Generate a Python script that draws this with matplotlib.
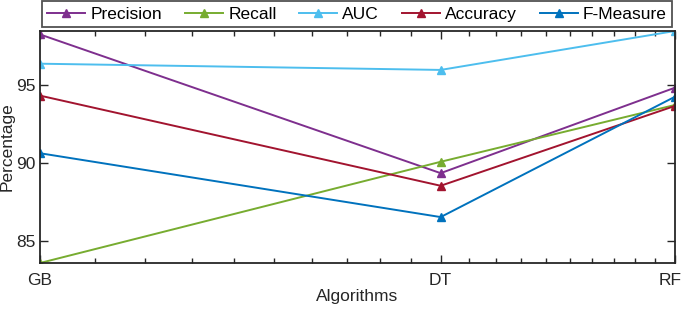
import matplotlib.pyplot as plt
import matplotlib.transforms as mtransforms
import numpy as np
from matplotlib.ticker import FixedLocator, NullFormatter

plt.rcParams['font.family'] = ['Liberation Sans', 'DejaVu Sans']

# Data
algorithms = ["GB", "DT", "RF"]
x_pos = [1, 2, 3]
precision = [98.28, 89.37, 94.86]
recall = [83.6, 90.1, 93.75]
auc = [96.4, 96.0, 98.5]
accuracy = [94.35, 88.56, 93.69]
f_measure = [90.65, 86.55, 94.28]

series = [
    ("Precision", precision, "#7E2F8E"),
    ("Recall", recall, "#77AC30"),
    ("AUC", auc, "#4DBEEE"),
    ("Accuracy", accuracy, "#A2142F"),
    ("F-Measure", f_measure, "#0072BD"),
]

fig = plt.figure(figsize=(6.85, 3.11), dpi=100)
ax = fig.add_axes([40 / 685, 1 - 263 / 311, 635 / 685, 232 / 311])

for name, vals, col in series:
    ax.plot(x_pos, vals, color=col, linewidth=1.4, marker="^", markersize=5.5,
            label=name)

ax.set_xscale("log")
ax.set_xlim(1, 3)
all_vals = np.concatenate([s[1] for s in series])
ax.set_ylim(all_vals.min(), all_vals.max())

ax.xaxis.set_major_locator(FixedLocator(x_pos))
ax.set_xticklabels(algorithms)
minor = [1 + 0.1 * i for i in range(1, 10)] + [2 + 0.1 * i for i in range(1, 10)]
ax.xaxis.set_minor_locator(FixedLocator(minor))
ax.xaxis.set_minor_formatter(NullFormatter())
ax.set_yticks([85, 90, 95])

ax.tick_params(which="both", direction="in", top=True, right=True,
               colors="#262626", labelsize=12.5, width=1.0)
ax.tick_params(which="major", length=6)
ax.tick_params(which="minor", length=3.5)
ax.tick_params(axis="x", which="major", pad=7)
ax.tick_params(axis="y", which="major", pad=3)
for sp in ax.spines.values():
    sp.set_color("#262626")
    sp.set_linewidth(1.3)

# keep the last label inside the canvas
last = ax.get_xticklabels()[-1]
last.set_transform(last.get_transform() +
                   mtransforms.ScaledTranslation(-5 / 100, 0, fig.dpi_scale_trans))

ax.set_xlabel("Algorithms", fontsize=12.5, labelpad=1, color="#262626")
ax.set_ylabel("Percentage", fontsize=12.5, labelpad=1, color="#262626")

leg = fig.legend(loc="lower left", bbox_to_anchor=(42 / 685, 1 - 27 / 311, 630 / 685, 26 / 311),
                 ncol=5, mode="expand", frameon=True, fancybox=False,
                 fontsize=12.5, handlelength=2.2, handletextpad=0.3,
                 borderpad=0.3, borderaxespad=0)
leg.get_frame().set_edgecolor("#262626")
leg.get_frame().set_linewidth(1.3)

fig.savefig("out.png", dpi=100)
